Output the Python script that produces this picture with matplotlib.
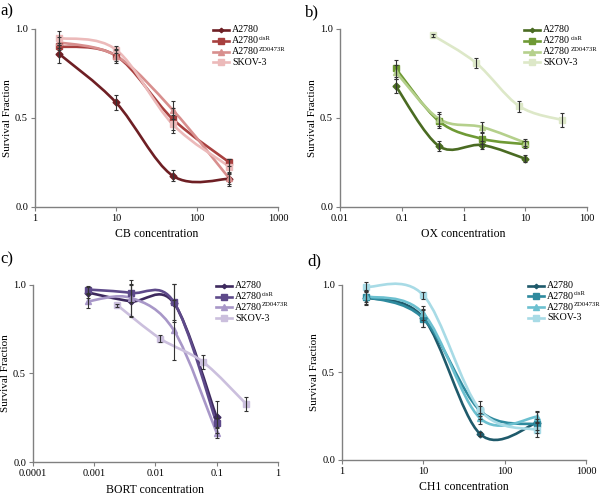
import numpy as np
import matplotlib
matplotlib.use("Agg")
from matplotlib import pyplot as plt
from matplotlib.path import Path
from matplotlib.patches import PathPatch

plt.rcParams['font.family'] = ['Liberation Serif', 'DejaVu Serif']

names = ['A2780', 'A2780', 'A2780', 'SKOV-3']
sups = ['', 'cisR', 'ZD0473R', '']
markers = ['D', 's', '^', 's']
msizes = [3.5, 5, 5, 5]

# a) CB
cb_x = [2, 10, 50, 250]
cb_y = [[0.859, 0.587, 0.176, 0.158],
        [0.902, 0.850, 0.495, 0.251],
        [0.925, 0.850, 0.546, 0.161],
        [0.949, 0.884, 0.465, 0.227]]
cb_err = [[0.05, 0.04, 0.03, 0.04],
          [0.02, 0.03, 0.06, 0.02],
          [0.03, 0.04, 0.05, 0.03],
          [0.04, 0.02, 0.05, 0.04]]

# b) OX
ox_x = [0.08, 0.4, 2, 10]
ox_x_skov = [0.32, 1.6, 8, 40]
ox_y = [[0.679, 0.342, 0.348, 0.271],
        [0.778, 0.482, 0.383, 0.353],
        [0.759, 0.495, 0.449, 0.361],
        [0.964, 0.809, 0.566, 0.488]]
ox_err = [[0.04, 0.03, 0.02, 0.02],
          [0.05, 0.04, 0.03, 0.02],
          [0.04, 0.04, 0.03, 0.02],
          [0.01, 0.03, 0.03, 0.04]]

# c) BORT
bort_x = [0.0008, 0.004, 0.02, 0.1]
bort_x_skov = [0.0024, 0.012, 0.06, 0.3]
bort_y = [[0.957, 0.908, 0.898, 0.254],
          [0.974, 0.955, 0.904, 0.220],
          [0.908, 0.927, 0.744, 0.166],
          [0.885, 0.697, 0.565, 0.330]]
bort_err = [[0.03, 0.09, 0.11, 0.09],
            [0.02, 0.05, 0.10, 0.03],
            [0.04, 0.10, 0.17, 0.03],
            [0.01, 0.02, 0.04, 0.04]]

# d) CH1
ch1_x = [2, 10, 50, 250]
ch1_y = [[0.928, 0.812, 0.148, 0.213],
         [0.932, 0.808, 0.281, 0.203],
         [0.935, 0.837, 0.238, 0.247],
         [0.989, 0.941, 0.285, 0.171]]
ch1_err = [[0.04, 0.05, 0.01, 0.06],
           [0.04, 0.05, 0.03, 0.03],
           [0.03, 0.04, 0.03, 0.03],
           [0.03, 0.02, 0.05, 0.04]]

reds = ['#6e1f24', '#a8403f', '#d88f8e', '#ecbaba']
greens = ['#4a6b22', '#6f9a35', '#b5d08c', '#dde8c8']
purples = ['#3e2a5e', '#5e4a8a', '#a897c8', '#cbbfdd']
blues = ['#1f5a6b', '#2e8a9e', '#6cc0d0', '#a8dbe6']

legend_rows = [0.995, 0.934, 0.873, 0.812]


def smooth_path(ax, x, y):
    # Catmull-Rom style bezier drawn in display space (like a smoothed spreadsheet line)
    pts = ax.transData.transform(np.column_stack([x, y]))
    n = len(pts)
    verts = [pts[0]]
    codes = [Path.MOVETO]
    for i in range(n - 1):
        p0 = pts[i - 1] if i > 0 else pts[i]
        p1 = pts[i]
        p2 = pts[i + 1]
        p3 = pts[i + 2] if i + 2 < n else pts[i + 1]
        c1 = p1 + (p2 - p0) / 6.0
        c2 = p2 - (p3 - p1) / 6.0
        verts += [c1, c2, p2]
        codes += [Path.CURVE4] * 3
    verts = ax.transData.inverted().transform(np.array(verts))
    return Path(verts, codes)


def panel(rect, xs, ys, errs, colors, xlim, xticks, xticklabels, xlabel, tag, tagpos, legx):
    ax = fig.add_axes(rect)
    ax.set_xscale('log')
    ax.set_xlim(xlim)
    ax.set_ylim(0, 1)
    for i in range(4):
        p = smooth_path(ax, xs[i], ys[i])
        ax.add_patch(PathPatch(p, facecolor='none', edgecolor=colors[i], lw=1.9,
                               zorder=2 + i * 0.1, clip_on=False))
        ax.errorbar(xs[i], ys[i], yerr=errs[i], fmt='none', ecolor='#333333',
                    elinewidth=0.8, capsize=1.5, capthick=0.8, zorder=4, clip_on=False)
        ax.plot(xs[i], ys[i], ls='none', marker=markers[i], ms=msizes[i],
                color=colors[i], mec=colors[i], zorder=3 + i * 0.1, clip_on=False)
    ax.set_xticks(xticks)
    ax.set_xticklabels(xticklabels)
    ax.minorticks_off()
    ax.set_yticks([0, 0.5, 1.0])
    ax.set_yticklabels(['0.0', '0.5', '1.0'])
    for s in ['top', 'right']:
        ax.spines[s].set_visible(False)
    for s in ['left', 'bottom']:
        ax.spines[s].set_color('#808080')
        ax.spines[s].set_linewidth(1.0)
    ax.tick_params(axis='both', labelsize=7.5, color='#808080', length=3, width=0.8, pad=2)
    ax.set_xlabel(xlabel, fontsize=8.5, labelpad=4)
    ax.set_ylabel('Survival Fraction', fontsize=8, labelpad=2)

    # legend entries, laid out by hand to match the tight spacing
    for i in range(4):
        yy = legend_rows[i]
        ax.plot([legx, legx + 0.065], [yy, yy], color=colors[i], lw=1.9,
                transform=ax.transAxes, clip_on=False)
        ax.plot([legx + 0.0325], [yy], marker=markers[i], ms=msizes[i] - 1.2,
                color=colors[i], transform=ax.transAxes, clip_on=False)
        t = ax.text(legx + 0.078, yy, names[i], fontsize=7.2, ha='left', va='center',
                    transform=ax.transAxes)
        if sups[i]:
            ax.annotate(sups[i], xy=(1.0, 0.5), xycoords=t, fontsize=4.8,
                        ha='left', va='bottom')
    fig.text(tagpos[0], tagpos[1], tag, fontsize=12, ha='left', va='center')
    return ax


fig = plt.figure(figsize=(6, 4.96), dpi=100)

panel([0.0583, 0.5827, 0.405, 0.3589], [cb_x] * 4, cb_y, cb_err, reds,
      (1, 1000), [1, 10, 100, 1000], ['1', '10', '100', '1000'],
      'CB concentration', 'a)', (0.0, 0.978), 0.733)
panel([0.5667, 0.5827, 0.4117, 0.3589], [ox_x, ox_x, ox_x, ox_x_skov], ox_y, ox_err, greens,
      (0.01, 100), [0.01, 0.1, 1, 10, 100], ['0.01', '0.1', '1', '10', '100'],
      'OX concentration', 'b)', (0.508, 0.975), 0.745)
panel([0.055, 0.0685, 0.408, 0.357], [bort_x, bort_x, bort_x, bort_x_skov], bort_y, bort_err, purples,
      (0.0001, 1), [0.0001, 0.001, 0.01, 0.1, 1], ['0.0001', '0.001', '0.01', '0.1', '1'],
      'BORT concentration', 'c)', (0.0, 0.478), 0.747)
panel([0.57, 0.0726, 0.4067, 0.353], [ch1_x] * 4, ch1_y, ch1_err, blues,
      (1, 1000), [1, 10, 100, 1000], ['1', '10', '100', '1000'],
      'CH1 concentration', 'd)', (0.513, 0.472), 0.762)

fig.savefig('out.png', dpi=100)
